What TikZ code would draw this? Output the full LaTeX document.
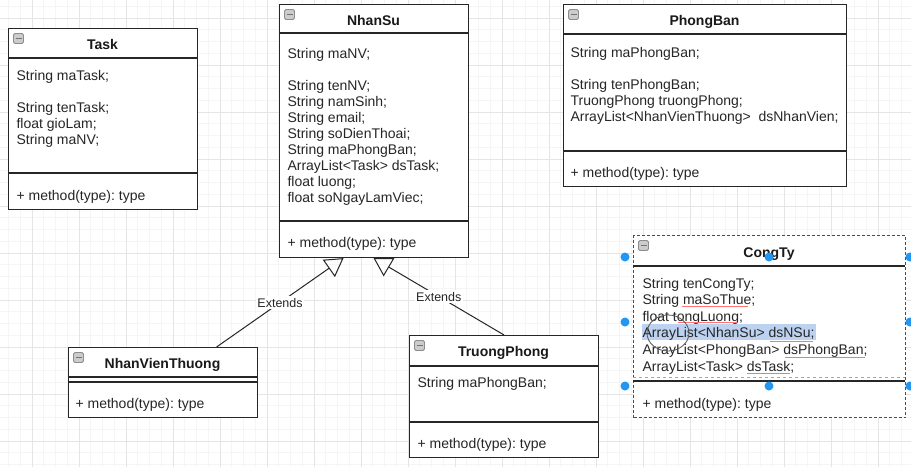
\documentclass[tikz,border=0pt]{standalone}
\usepackage{fontspec}
\setmainfont{Liberation Sans}
\frenchspacing
\usetikzlibrary{arrows.meta}
\definecolor{selblue}{RGB}{33,150,243}
\definecolor{hilite}{RGB}{188,210,240}
\begin{document}
\begin{tikzpicture}[x=1pt,y=-1pt,line width=1.1pt,
    cls/.style={draw=black!85,fill=white,anchor=north west,inner sep=0},
    ttl/.style={font=\fontsize{14}{16}\selectfont\bfseries,anchor=base,inner sep=0,text=black!90},
    txt/.style={font=\fontsize{14}{16.1}\selectfont,align=left,anchor=base west,inner sep=0,text=black!85},
    icon/.style={draw=black!45,fill=black!20,rounded corners=1.5pt,minimum size=10pt,inner sep=0,line width=0.8pt,
        path picture={\draw[black!55,line width=1.4pt]([xshift=-3pt]path picture bounding box.center)--([xshift=3pt]path picture bounding box.center);}},
    ext/.style={-{Triangle[open,length=18pt,width=21pt]},draw=black!85,line width=1pt},
    lbl/.style={font=\fontsize{12.5}{14}\selectfont,fill=white,inner sep=1.5pt,text=black!85}]
    \useasboundingbox[fill=white](0,0)rectangle(911,467);
    \foreach \gx in {8.5,20.25,...,911}\draw[black!4,line width=0.6pt](\gx,0)--(\gx,467);
    \foreach \gy in {6.25,18,...,467}\draw[black!4,line width=0.6pt](0,\gy)--(911,\gy);
    \foreach \gx in {32,79,...,911}\draw[black!10,line width=0.7pt](\gx,0)--(\gx,467);
    \foreach \gy in {18,65,...,467}\draw[black!10,line width=0.7pt](0,\gy)--(911,\gy);
    % multi-line texts sit on the baseline of their last line
    \node[cls,minimum width=189,minimum height=181](Task)at(8,28){};
    \draw[black!85](8,58)--(197,58)(8,173)--(197,173);
    \node[icon](icTask)at(18.5,38.5){};
    \node[ttl](tTask)at(102.5,49){Task};
    \node[txt](aTask)at(16,144.3){String maTask;\\[16pt]String tenTask;\\float gioLam;\\String maNV;};
    \node[txt](mTask)at(16,200){+ method(type): type};
    \node[cls,minimum width=189,minimum height=253](NhanSu)at(279,4){};
    \draw[black!85](279,33)--(468,33)(279,221)--(468,221);
    \node[icon](icNhanSu)at(289.5,14.5){};
    \node[ttl](tNhanSu)at(373.5,25){NhanSu};
    \node[txt](aNhanSu)at(287,202.8){String maNV;\\[16pt]String tenNV;\\String namSinh;\\String email;\\String soDienThoai;\\String maPhongBan;\\ArrayList<Task> dsTask;\\float luong;\\float soNgayLamViec;};
    \node[txt](mNhanSu)at(287,247){+ method(type): type};
    \node[cls,minimum width=283,minimum height=182](PhongBan)at(563,4){};
    \draw[black!85](563,34)--(846,34)(563,151)--(846,151);
    \node[icon](icPhongBan)at(573.5,14.5){};
    \node[ttl](tPhongBan)at(704.5,25){PhongBan};
    \node[txt](aPhongBan)at(570,121.3){String maPhongBan;\\[16pt]String tenPhongBan;\\TruongPhong truongPhong;\\ArrayList<NhanVienThuong>\ \ dsNhanVien;};
    \node[txt](mPhongBan)at(570,177){+ method(type): type};
    \node[cls,draw=black!70,dash pattern=on 3pt off 2pt,minimum width=272,minimum height=182](CongTy)at(633,235){};
    \draw[black!85](633,266)--(905,266)(633,381)--(905,381);
    \draw[selblue!70,dashed,line width=0.6pt](633,377)--(905,377);
    \fill[hilite](642,324)rectangle(816,340);
    \node[icon](icCongTy)at(643.5,245.5){};
    \node[ttl](tCongTy)at(769,257){CongTy};
    \node[txt,font=\fontsize{14}{16.6}\selectfont](aCongTy)at(642,371){String tenCongTy;\\String maSoThue;\\float tongLuong;\\ArrayList<NhanSu> dsNSu;\\ArrayList<PhongBan> dsPhongBan;\\ArrayList<Task> dsTask;};
    \node[txt](mCongTy)at(642,408){+ method(type): type};
    \draw[red!55,line width=0.8pt](682,306)--(748,306)(678,322)--(737,322)(770,341)--(813,341)(785,357)--(865,357)(747,373)--(790,373);
    \draw[black!65,line width=0.8pt](668,333)ellipse(21 and 18);
    \foreach \p in {(625,257),(769,257),(625,322),(625,386),(769,386),(910,257),(910,322),(910,386)}\fill[selblue]\p circle(4.5);
    \node[cls,minimum width=189,minimum height=70](NhanVienThuong)at(68,347){};
    \draw[black!85](68,377)--(257,377)(68,382)--(257,382);
    \node[icon](icNhanVienThuong)at(78.5,357.5){};
    \node[ttl](tNhanVienThuong)at(162.5,368){NhanVienThuong};
    \node[txt](mNhanVienThuong)at(75,408){+ method(type): type};
    \node[cls,minimum width=189,minimum height=122](TruongPhong)at(409,335){};
    \draw[black!85](409,366)--(598,366)(409,422)--(598,422);
    \node[icon](icTruongPhong)at(419.5,345.5){};
    \node[ttl](tTruongPhong)at(503.5,356){TruongPhong};
    \node[txt](aTruongPhong)at(417,387){String maPhongBan;};
    \node[txt](mTruongPhong)at(417,448){+ method(type): type};
    \draw[ext]([xshift=53.5pt]NhanVienThuong.north)--node[lbl](e1){Extends}([xshift=-30.5pt]NhanSu.south);
    \draw[ext](TruongPhong.north)--node[lbl](e2){Extends}([xshift=-0.5pt]NhanSu.south);
\end{tikzpicture}
\end{document}
